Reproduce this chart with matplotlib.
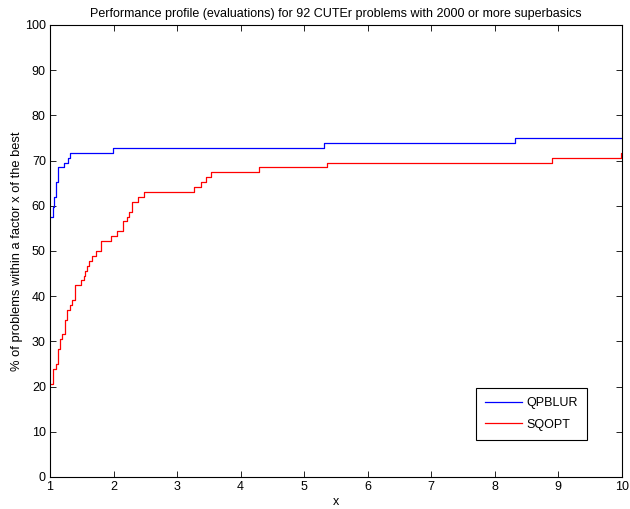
import matplotlib.pyplot as plt
import numpy as np

plt.rcParams['font.family'] = ['Liberation Sans', 'DejaVu Sans']

n_problems = 92

# breakpoints (factor x) and number of problems solved within that factor
qpblur_x = [1.00, 1.04, 1.07, 1.09, 1.12, 1.22, 1.29, 1.32, 1.99, 5.31, 8.32, 10.0]
qpblur_n = [53, 55, 57, 60, 63, 64, 65, 66, 67, 68, 69, 69]

sqopt_x = [1.00, 1.02, 1.04, 1.09, 1.12, 1.16, 1.19, 1.23, 1.27, 1.31, 1.34,
           1.39, 1.40, 1.48, 1.53, 1.55, 1.58, 1.62, 1.66, 1.73, 1.81, 1.96,
           2.05, 2.15, 2.21, 2.25, 2.29, 2.39, 2.48, 3.26, 3.37, 3.46, 3.54,
           4.29, 5.36, 8.90, 9.99, 10.0]
sqopt_n = [19, 19, 22, 23, 26, 28, 29, 32, 34, 35, 36,
           37, 39, 40, 41, 42, 43, 44, 45, 46, 48, 49,
           50, 52, 53, 54, 56, 57, 58, 59, 60, 61, 62,
           63, 64, 65, 66, 66]

fig = plt.figure(figsize=(6.3, 5.09), dpi=100)
ax = fig.add_axes([0.0794, 0.0629, 0.9076, 0.8881])

ax.plot(qpblur_x, 100.0 * np.array(qpblur_n) / n_problems, color='b',
        lw=0.9, drawstyle='steps-post', label='QPBLUR')
ax.plot(sqopt_x, 100.0 * np.array(sqopt_n) / n_problems, color='r',
        lw=0.9, drawstyle='steps-post', label='SQOPT')

ax.set_xlim(1, 10)
ax.set_ylim(0, 100)
ax.set_xticks(range(1, 11))
ax.set_yticks(range(0, 101, 10))
ax.tick_params(direction='in', top=True, right=True, labelsize=9,
               length=4, width=0.6, pad=3)
for s in ax.spines.values():
    s.set_linewidth(0.8)

ax.set_title('Performance profile (evaluations) for 92 CUTEr problems with 2000 or more superbasics',
             fontsize=9, pad=6)
ax.set_xlabel('x', fontsize=9, labelpad=2)
ax.set_ylabel('% of problems within a factor x of the best', fontsize=9.3, labelpad=1)

leg = ax.legend(loc='lower left', bbox_to_anchor=(0.745, 0.082), borderaxespad=0,
                fontsize=9, fancybox=False, edgecolor='k', framealpha=1,
                handlelength=2.9, handletextpad=0.35, borderpad=0.75,
                labelspacing=0.75)
leg.get_frame().set_linewidth(0.8)

fig.savefig('out.png', dpi=100)
